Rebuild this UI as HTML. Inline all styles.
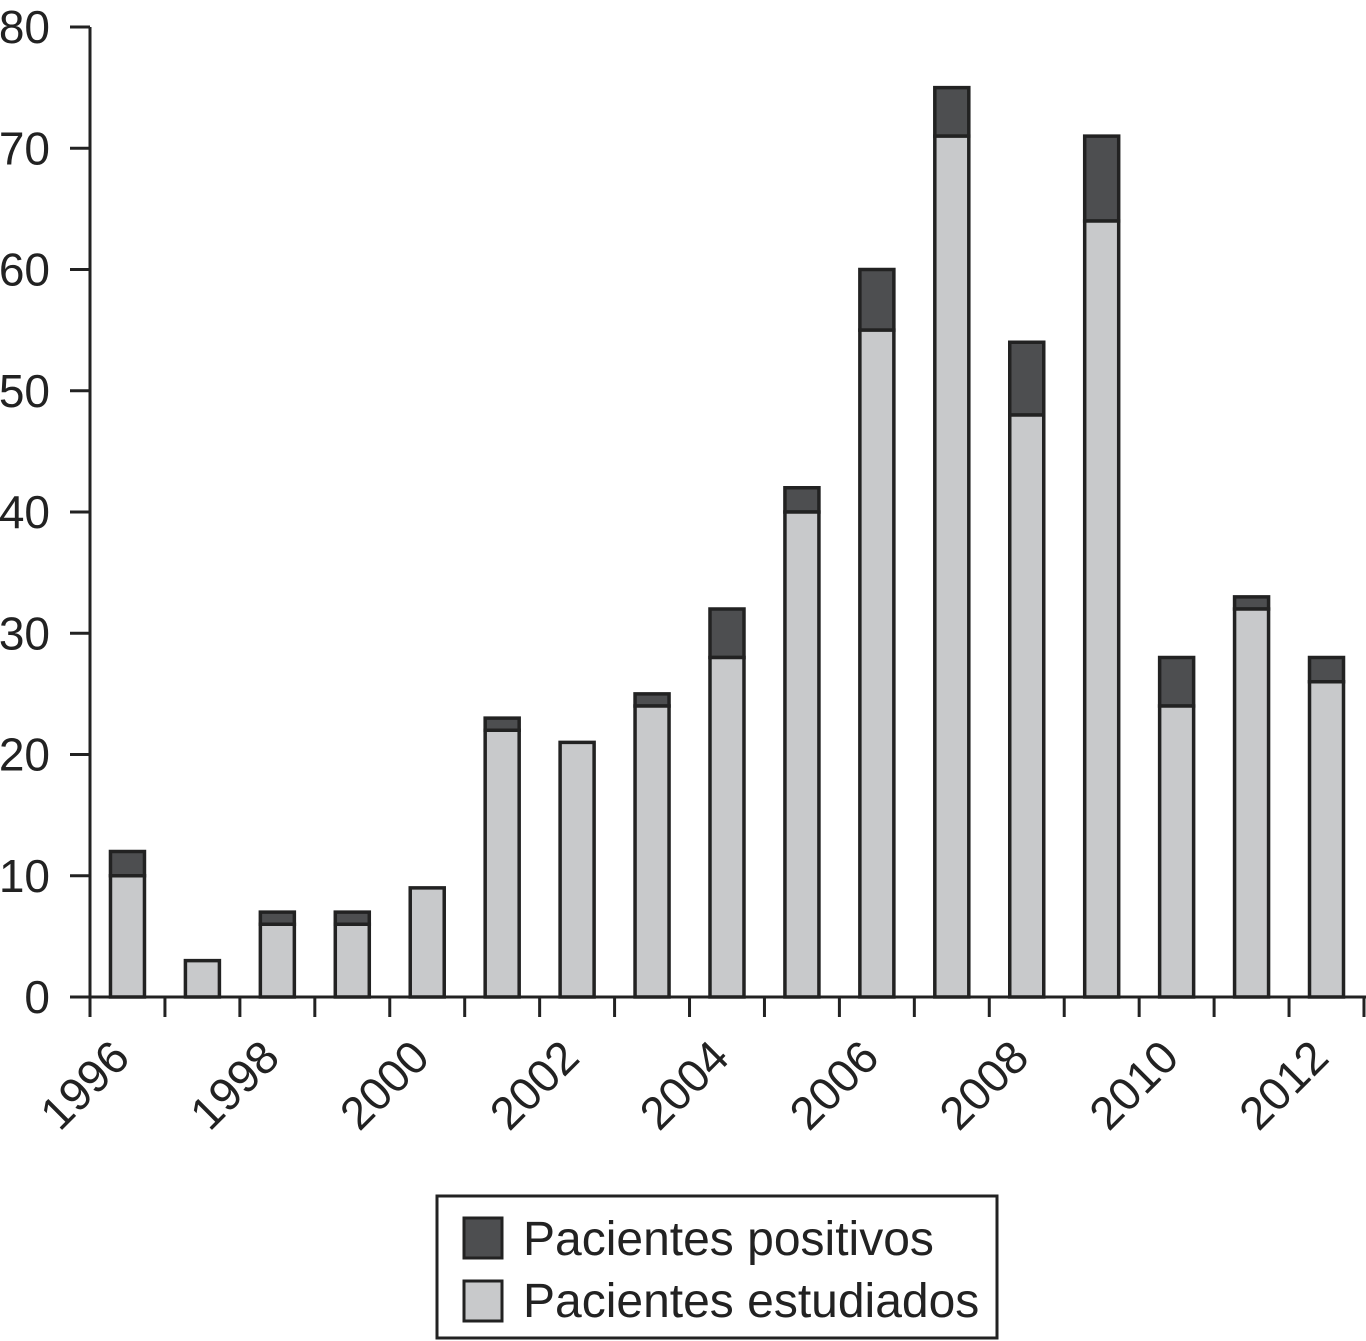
<!DOCTYPE html>
<html><head><meta charset="utf-8"><style>
html,body{margin:0;padding:0;background:#fff;}
svg{display:block;font-family:"Liberation Sans",Arial,sans-serif;}
</style></head><body>
<svg id="chart" width="1366" height="1341" viewBox="0 0 1366 1341" xmlns="http://www.w3.org/2000/svg">
<g id="bars"></g>
<g id="axes"></g>
<g>
  <rect x="437" y="1196" width="560" height="142" fill="#fff" stroke="#222" stroke-width="3"/>
  <rect x="464" y="1218" width="38" height="40" fill="#4d4e50" stroke="#222" stroke-width="3"/>
  <text x="523" y="1255" font-size="48" fill="#222">Pacientes positivos</text>
  <rect x="464" y="1281" width="38" height="40" fill="#c8c9cb" stroke="#222" stroke-width="3"/>
  <text x="523" y="1317" font-size="48" fill="#222">Pacientes estudiados</text>
</g>
</svg>
<script>
const years = [1996,1997,1998,1999,2000,2001,2002,2003,2004,2005,2006,2007,2008,2009,2010,2011,2012];
const studied = [10,3,6,6,9,22,21,24,28,40,55,71,48,64,24,32,26];
const totals = [12,3,7,7,9,23,21,25,32,42,60,75,54,71,28,33,28];
const yTicks = [0,10,20,30,40,50,60,70,80];
const xLabels = ["1996","1998","2000","2002","2004","2006","2008","2010","2012"];

const NS = "http://www.w3.org/2000/svg";
const x0 = 90, step = 74.94, y0 = 997, pxPerUnit = 12.125, barW = 34;
const yS = v => y0 - v * pxPerUnit;
const xS = i => x0 + i * step;
function mk(tag, attrs, parent){const e=document.createElementNS(NS,tag);for(const k in attrs)e.setAttribute(k,attrs[k]);parent.appendChild(e);return e;}
const bars = document.getElementById('bars');
const axes = document.getElementById('axes');

years.forEach((yr,i)=>{
  const bx = xS(i) + (step - barW)/2;
  const top = yS(totals[i]), mid = yS(studied[i]);
  if (totals[i] > studied[i]) {
    const d = mk('rect',{x:bx,y:top,width:barW,height:mid-top,fill:'#4d4e50',stroke:'#222','stroke-width':3.5},bars);
    
    
  }
  const l = mk('rect',{x:bx,y:mid,width:barW,height:y0-mid,fill:'#c8c9cb',stroke:'#222','stroke-width':3.5},bars);
  
  
});

const ya = mk('line',{x1:x0,y1:y0+20,x2:x0,y2:yS(80),stroke:'#222','stroke-width':3},axes);


const xa = mk('line',{x1:70,y1:y0,x2:1366,y2:y0,stroke:'#222','stroke-width':3},axes);



yTicks.forEach(v=>{
  const t = mk('line',{x1:70,y1:yS(v),x2:x0,y2:yS(v),stroke:'#222','stroke-width':3},axes);
  
  
  const tx = mk('text',{x:50,y:yS(v)+16,'font-size':46,'text-anchor':'end',fill:'#222'},axes);
  tx.textContent = v;
  
  
});
for (let i=0;i<=years.length;i++){
  const t = mk('line',{x1:xS(i),y1:y0,x2:xS(i),y2:y0+20,stroke:'#222','stroke-width':3},axes);
  
  
}
xLabels.forEach((lab,k)=>{
  const ax = xS(k*2) + 42, ay = 1060;
  const tx = mk('text',{x:ax,y:ay,'font-size':46,'text-anchor':'end',fill:'#222',transform:`rotate(-45 ${ax} ${ay})`},axes);
  tx.textContent = lab;
  
  
});
</script>
</body></html>
